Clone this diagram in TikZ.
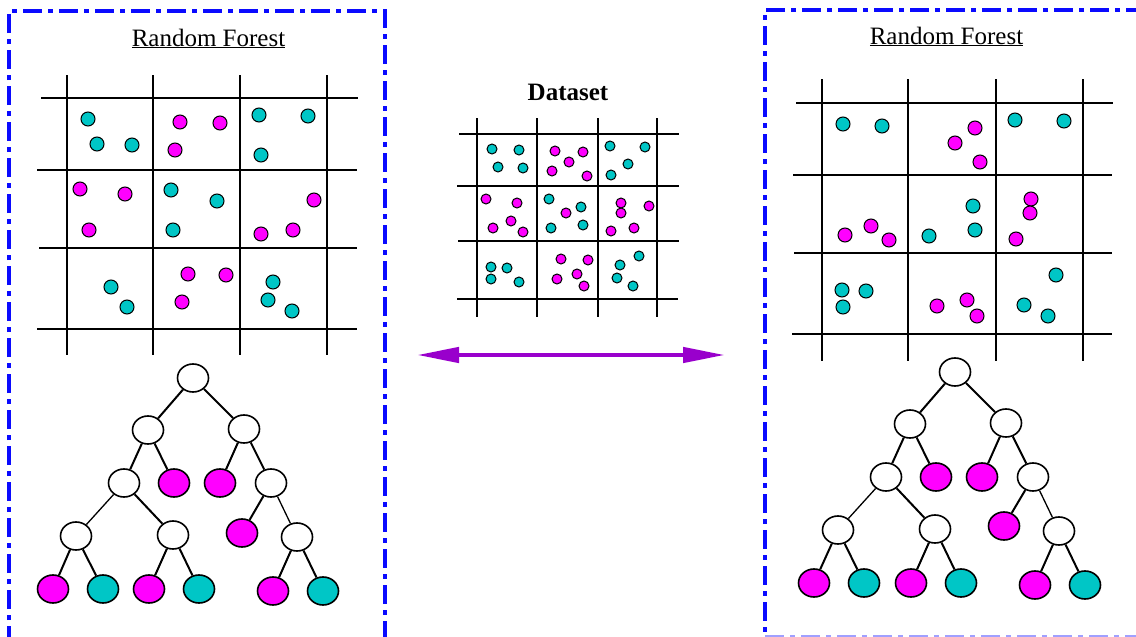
\documentclass[tikz,border=0pt]{standalone}
\usepackage{fontspec}
\setmainfont{Liberation Serif}
\usetikzlibrary{arrows.meta,shapes.geometric}
\definecolor{cyd}{RGB}{0,198,198}
\definecolor{mgd}{RGB}{255,0,255}
\definecolor{frameblue}{RGB}{10,10,255}
\definecolor{arrpurple}{RGB}{153,0,204}
\tikzset{
  frame/.style={draw=frameblue,line width=3.2pt,dash pattern=on 19pt off 6pt on 5pt off 6pt},
  gridline/.style={draw=black,line width=1.3pt},
  cdot/.style={fill=cyd,draw=black,line width=1pt},
  mdot/.style={fill=mgd,draw=black,line width=1pt},
  tn/.style={shape=ellipse,draw=black,line width=1.6pt,minimum width=31pt,minimum height=28pt,inner sep=0pt},
  wn/.style={tn,fill=white},
  mn/.style={tn,fill=mgd},
  cn/.style={tn,fill=cyd},
  tedge/.style={draw=black,line width=2pt},
  ttl/.style={anchor=base,inner sep=0pt,font=\fontsize{25}{30}\selectfont},
}
\begin{document}
\begin{tikzpicture}[x=1pt,y=-1pt]
\useasboundingbox (0,0) rectangle (1136,637);
% frames
\draw[frame] (9,645) -- (9,11) -- (385,11) -- (385,645);
\draw[frame] (1145,10) -- (765,10) -- (765,636);
\draw[draw={rgb,255:red,160;green,160;blue,255},line width=1.4pt,dash pattern=on 19pt off 6pt on 5pt off 6pt] (765,636) -- (1145,636);
% titles
\node[ttl] (t1) at (208.5,46) {\underline{Random Forest}};
\node[ttl] (t2) at (946.5,44) {\underline{Random Forest}};
\node[ttl,font=\fontsize{25}{30}\selectfont\bfseries] (t3) at (568,100) {Dataset};
% left grid
\foreach \x in {67,153,240,327} \draw[gridline] (\x,75) -- (\x,355);
\draw[gridline] (41,98) -- (358,98);
\draw[gridline] (37,170) -- (357,170);
\draw[gridline] (39,248) -- (357,248);
\draw[gridline] (37,329) -- (357,329);
\foreach \x/\y in {88/119,97/144,132/145,259/115,308/116,261/155,171/190,217/201,173/230,111/287,127/307,273/282,268/300,292/311}
  \draw[cdot] (\x,\y) circle (7pt);
\foreach \x/\y in {180/122,220/123,175/150,80/189,125/194,89/230,314/200,261/234,293/230,188/274,226/275,182/302}
  \draw[mdot] (\x,\y) circle (7pt);
% dataset grid
\foreach \x in {477,537,598,657} \draw[gridline] (\x,118) -- (\x,317);
\draw[gridline] (459,134) -- (679,134);
\draw[gridline] (457,186) -- (679,186);
\draw[gridline] (458,241) -- (679,241);
\draw[gridline] (457,299) -- (678,299);
\foreach \x/\y in {492/149,519/150,498/167,523/168,610/146,645/147,628/164,611/175,549/199,581/207,551/228,583/225,491/267,507/268,491/279,519/282,639/256,620/265,617/278,633/286}
  \draw[cdot] (\x,\y) circle (5pt);
\foreach \x/\y in {555/151,583/152,569/162,552/171,587/176,486/199,517/203,511/221,493/228,523/232,566/213,621/203,621/213,649/206,611/231,634/228,561/259,588/260,577/274,557/279,584/286}
  \draw[mdot] (\x,\y) circle (5pt);
% right grid
\foreach \x in {822,908,996,1083} \draw[gridline] (\x,79) -- (\x,361);
\draw[gridline] (796,103) -- (1113,103);
\draw[gridline] (793,175) -- (1112,175);
\draw[gridline] (794,253) -- (1112,253);
\draw[gridline] (792,334) -- (1112,334);
\foreach \x/\y in {843/124,882/126,1015/120,1064/121,929/236,973/206,975/230,842/290,843/307,866/291,1056/275,1024/305,1048/316}
  \draw[cdot] (\x,\y) circle (7pt);
\foreach \x/\y in {975/128,955/143,980/162,845/235,871/226,889/240,1031/199,1030/213,1016/239,937/306,967/300,977/316}
  \draw[mdot] (\x,\y) circle (7pt);
% arrow
\coordinate (al) at (417,355);
\coordinate (ar) at (725,355);
\draw[draw=arrpurple,line width=4.5pt,{Triangle[length=42pt,width=15pt]}-{Triangle[length=42pt,width=15pt]}] (al) -- (ar);
% left tree
\node[wn] (a0) at (193,378) {};
\node[wn] (a1) at (148,430) {};
\node[wn] (a2) at (244,429) {};
\node[wn] (a3) at (124,483) {};
\node[mn] (a4) at (174,483) {};
\node[mn] (a5) at (220,483) {};
\node[wn] (a6) at (271,483) {};
\node[wn] (a7) at (76,536) {};
\node[wn] (a8) at (173,535) {};
\node[mn] (a9) at (242,533) {};
\node[wn] (a10) at (297,537) {};
\node[mn] (a11) at (53,589) {};
\node[cn] (a12) at (103,589) {};
\node[mn] (a13) at (149,589) {};
\node[cn] (a14) at (199,589) {};
\node[mn] (a15) at (273,591) {};
\node[cn] (a16) at (323,591) {};
\draw[tedge] (a0) -- (a1); \draw[tedge] (a0) -- (a2);
\draw[tedge] (a1) -- (a3); \draw[tedge] (a1) -- (a4);
\draw[tedge] (a2) -- (a5); \draw[tedge] (a2) -- (a6);
\draw[tedge,line width=1.3pt] (a3) -- (a7); \draw[tedge] (a3) -- (a8);
\draw[tedge] (a6) -- (a9); \draw[tedge,line width=1.3pt] (a6) -- (a10);
\draw[tedge] (a7) -- (a11); \draw[tedge] (a7) -- (a12);
\draw[tedge] (a8) -- (a13); \draw[tedge] (a8) -- (a14);
\draw[tedge] (a10) -- (a15); \draw[tedge] (a10) -- (a16);
% right tree
\node[wn] (b0) at (955,372) {};
\node[wn] (b1) at (910,424) {};
\node[wn] (b2) at (1006,423) {};
\node[wn] (b3) at (886,477) {};
\node[mn] (b4) at (936,477) {};
\node[mn] (b5) at (982,477) {};
\node[wn] (b6) at (1033,477) {};
\node[wn] (b7) at (838,530) {};
\node[wn] (b8) at (935,529) {};
\node[mn] (b9) at (1004,526) {};
\node[wn] (b10) at (1059,531) {};
\node[mn] (b11) at (814,583) {};
\node[cn] (b12) at (864,583) {};
\node[mn] (b13) at (911,583) {};
\node[cn] (b14) at (961,583) {};
\node[mn] (b15) at (1035,585) {};
\node[cn] (b16) at (1085,585) {};
\draw[tedge] (b0) -- (b1); \draw[tedge] (b0) -- (b2);
\draw[tedge] (b1) -- (b3); \draw[tedge] (b1) -- (b4);
\draw[tedge] (b2) -- (b5); \draw[tedge] (b2) -- (b6);
\draw[tedge,line width=1.3pt] (b3) -- (b7); \draw[tedge] (b3) -- (b8);
\draw[tedge] (b6) -- (b9); \draw[tedge,line width=1.3pt] (b6) -- (b10);
\draw[tedge] (b7) -- (b11); \draw[tedge] (b7) -- (b12);
\draw[tedge] (b8) -- (b13); \draw[tedge] (b8) -- (b14);
\draw[tedge] (b10) -- (b15); \draw[tedge] (b10) -- (b16);
\end{tikzpicture}
\end{document}
